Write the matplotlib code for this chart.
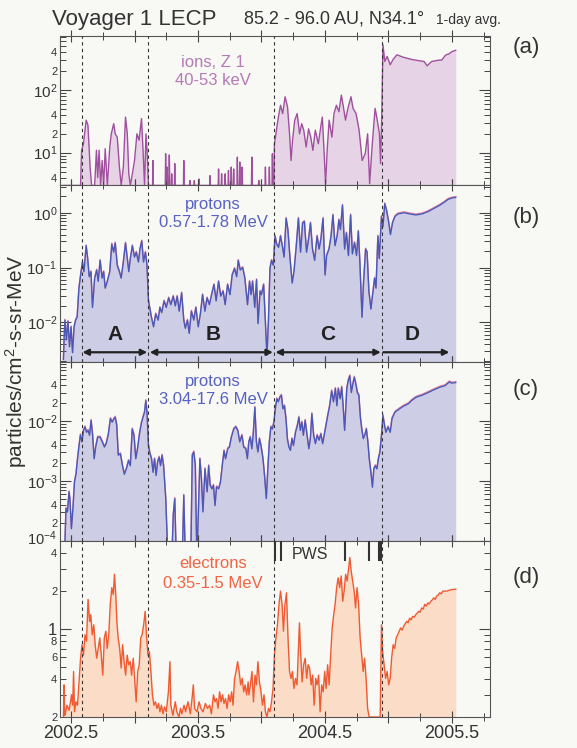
import numpy as np
import matplotlib
matplotlib.use('Agg')
import matplotlib.pyplot as plt
from matplotlib.ticker import FixedLocator, FuncFormatter, MultipleLocator
import matplotlib.transforms as mtransforms

plt.rcParams['font.family'] = ['Liberation Sans', 'DejaVu Sans']
plt.rcParams['mathtext.fontset'] = 'custom'
plt.rcParams['mathtext.rm'] = 'Liberation Sans'
plt.rcParams['mathtext.it'] = 'Liberation Sans:italic'
plt.rcParams['mathtext.bf'] = 'Liberation Sans:bold'

# ---------------- data (decimal year, flux) ----------------
ions_a = np.array([
    [2002.44, 3.0], [2002.575, 3.0], [2002.583, 10.9], [2002.598, 13.9], [2002.619, 33], [2002.633, 27.5],
    [2002.650, 5.9], [2002.662, 3.0], [2002.686, 3.0], [2002.700, 10.9], [2002.710, 4], [2002.721, 10.9],
    [2002.733, 3.0], [2002.745, 7.5], [2002.757, 3.0], [2002.769, 11.6], [2002.786, 3.0], [2002.805, 12.3],
    [2002.817, 20], [2002.836, 29], [2002.848, 20], [2002.864, 17.7], [2002.881, 5.9], [2002.895, 3.0],
    [2002.912, 5.9], [2002.929, 37], [2002.943, 20], [2002.955, 4.6], [2002.967, 3.0], [2002.983, 4.6],
    [2003.000, 7.5], [2003.019, 20], [2003.036, 15.8], [2003.055, 35], [2003.067, 10.9], [2003.079, 3.0],
    [2003.090, 20], [2003.100, 9.6], [2003.110, 3.0],
    [2003.142, 3.0], [2003.145, 7.5], [2003.148, 3.0], [2003.242, 3.0], [2003.245, 9.6], [2003.249, 3.0],
    [2003.253, 3.0], [2003.257, 5.9], [2003.261, 3.0], [2003.270, 3.0], [2003.274, 9.2], [2003.278, 3.0],
    [2003.290, 3.0], [2003.293, 4.6], [2003.296, 3.0], [2003.314, 3.0], [2003.317, 6.7], [2003.320, 3.0],
    [2003.385, 3.0], [2003.388, 7.5], [2003.391, 3.0], [2003.433, 3.0], [2003.436, 3.6], [2003.439, 3.0],
    [2003.468, 3.0], [2003.471, 3.6], [2003.474, 3.0], [2003.504, 3.0], [2003.507, 3.8], [2003.510, 3.0],
    [2003.592, 3.0], [2003.595, 4.3], [2003.598, 3.0], [2003.659, 3.0], [2003.662, 5.5], [2003.665, 3.0],
    [2003.683, 3.0], [2003.686, 4.6], [2003.689, 3.0], [2003.711, 3.0], [2003.714, 4.6], [2003.717, 3.0],
    [2003.737, 3.0], [2003.740, 5.2], [2003.743, 3.0], [2003.759, 3.0], [2003.762, 5.9], [2003.765, 3.0],
    [2003.778, 3.0], [2003.781, 5.5], [2003.784, 3.0], [2003.807, 3.0], [2003.810, 8.5], [2003.813, 3.0],
    [2003.826, 3.0], [2003.829, 7.1], [2003.832, 3.0], [2003.845, 3.0], [2003.848, 5.9], [2003.851, 3.0],
    [2003.921, 3.0], [2003.924, 8.5], [2003.927, 3.0], [2003.976, 3.0], [2003.979, 3.6], [2003.982, 3.0],
    [2004.028, 3.0], [2004.031, 5.9], [2004.034, 3.0], [2004.059, 3.0], [2004.062, 5.9], [2004.065, 3.0],
    [2004.083, 3.0], [2004.086, 9.6], [2004.089, 3.0], [2004.098, 3.0],
    [2004.102, 13.9], [2004.114, 20], [2004.133, 37], [2004.150, 57], [2004.167, 42], [2004.186, 78],
    [2004.205, 54], [2004.221, 20], [2004.233, 7.5], [2004.245, 15.8], [2004.262, 33], [2004.281, 42],
    [2004.300, 20], [2004.317, 29], [2004.333, 22.8], [2004.352, 12.3], [2004.371, 24], [2004.388, 17.7],
    [2004.405, 10.9], [2004.424, 22.8], [2004.448, 13.9], [2004.467, 25.8], [2004.479, 37], [2004.490, 13.9],
    [2004.505, 3.2], [2004.519, 12.3], [2004.533, 33], [2004.555, 17.7], [2004.571, 42], [2004.590, 57],
    [2004.610, 45], [2004.629, 83], [2004.643, 57], [2004.662, 33], [2004.681, 51], [2004.705, 78],
    [2004.721, 51], [2004.745, 42], [2004.769, 22.8], [2004.793, 7.5], [2004.817, 9.6], [2004.836, 20],
    [2004.852, 3.2], [2004.871, 12.3], [2004.895, 51], [2004.912, 33], [2004.929, 20], [2004.938, 6.7],
    [2004.948, 48], [2004.957, 525], [2004.971, 285], [2004.990, 343], [2005.014, 252], [2005.038, 310],
    [2005.067, 364], [2005.114, 335], [2005.174, 310], [2005.233, 295], [2005.281, 285], [2005.305, 243],
    [2005.340, 285], [2005.400, 300], [2005.420, 300], [2005.450, 360], [2005.480, 380], [2005.500, 410],
    [2005.530, 430]])

protons_b = np.array([
    [2002.440, 0.0021], [2002.446, 0.0055], [2002.452, 0.011], [2002.464, 0.0048], [2002.476, 0.0105],
    [2002.488, 0.0036], [2002.500, 0.0083], [2002.512, 0.0028], [2002.524, 0.0083], [2002.536, 0.011],
    [2002.548, 0.0124], [2002.562, 0.042], [2002.579, 0.084], [2002.590, 0.126], [2002.602, 0.084],
    [2002.619, 0.25], [2002.631, 0.145], [2002.643, 0.068], [2002.657, 0.084], [2002.669, 0.0187],
    [2002.686, 0.064], [2002.702, 0.09], [2002.714, 0.056], [2002.729, 0.135], [2002.745, 0.064],
    [2002.757, 0.084], [2002.769, 0.042], [2002.786, 0.056], [2002.805, 0.084], [2002.821, 0.267],
    [2002.836, 0.19], [2002.848, 0.28], [2002.864, 0.11], [2002.881, 0.084], [2002.895, 0.064],
    [2002.912, 0.126], [2002.929, 0.28], [2002.943, 0.145], [2002.955, 0.084], [2002.967, 0.145],
    [2002.983, 0.25], [2003.000, 0.155], [2003.014, 0.19], [2003.031, 0.126], [2003.043, 0.217],
    [2003.057, 0.305], [2003.071, 0.126], [2003.086, 0.19], [2003.098, 0.11], [2003.110, 0.0246],
    [2003.119, 0.0187], [2003.133, 0.0124], [2003.150, 0.0083], [2003.167, 0.0143], [2003.186, 0.011],
    [2003.200, 0.0187], [2003.214, 0.015], [2003.233, 0.0246], [2003.250, 0.0187], [2003.269, 0.028],
    [2003.286, 0.021], [2003.305, 0.030], [2003.321, 0.020], [2003.336, 0.030], [2003.352, 0.016],
    [2003.371, 0.0345], [2003.388, 0.011], [2003.400, 0.0078], [2003.417, 0.011], [2003.431, 0.0063],
    [2003.448, 0.016], [2003.467, 0.011], [2003.483, 0.0187], [2003.502, 0.0083], [2003.519, 0.0143],
    [2003.536, 0.032], [2003.555, 0.016], [2003.571, 0.028], [2003.590, 0.021], [2003.607, 0.032],
    [2003.626, 0.049], [2003.643, 0.0246], [2003.662, 0.056], [2003.679, 0.030], [2003.698, 0.037],
    [2003.714, 0.021], [2003.733, 0.049], [2003.752, 0.032], [2003.769, 0.073], [2003.788, 0.096],
    [2003.805, 0.068], [2003.817, 0.135], [2003.833, 0.09], [2003.852, 0.10], [2003.869, 0.064],
    [2003.890, 0.021], [2003.906, 0.056], [2003.918, 0.032], [2003.930, 0.056], [2003.947, 0.0187],
    [2003.961, 0.06], [2003.973, 0.0095], [2003.989, 0.037], [2004.000, 0.032], [2004.017, 0.049],
    [2004.032, 0.0083], [2004.043, 0.0025], [2004.055, 0.011], [2004.067, 0.096], [2004.079, 0.135],
    [2004.093, 0.11], [2004.107, 0.375], [2004.119, 0.267], [2004.135, 0.233], [2004.150, 0.375],
    [2004.166, 0.233], [2004.178, 0.155], [2004.194, 0.79], [2004.208, 0.49], [2004.225, 0.145],
    [2004.242, 0.052], [2004.256, 0.084], [2004.272, 0.217], [2004.291, 0.79], [2004.308, 0.19],
    [2004.324, 0.65], [2004.338, 0.69], [2004.355, 0.19], [2004.371, 0.33], [2004.386, 0.65],
    [2004.402, 0.217], [2004.419, 0.135], [2004.438, 0.375], [2004.454, 0.217], [2004.468, 0.33],
    [2004.485, 0.79], [2004.501, 0.073], [2004.513, 0.165], [2004.532, 0.217], [2004.548, 0.375],
    [2004.563, 0.91], [2004.579, 0.25], [2004.596, 0.375], [2004.610, 0.74], [2004.622, 0.49],
    [2004.638, 1.37], [2004.655, 0.217], [2004.669, 0.43], [2004.685, 0.165], [2004.702, 0.91],
    [2004.716, 0.177], [2004.733, 0.285], [2004.749, 0.165], [2004.763, 0.46], [2004.775, 0.126],
    [2004.792, 0.0124], [2004.803, 0.049], [2004.820, 0.217], [2004.832, 0.19], [2004.846, 0.037],
    [2004.862, 0.0175], [2004.874, 0.030], [2004.891, 0.064], [2004.902, 0.042], [2004.917, 0.375],
    [2004.928, 0.145], [2004.945, 0.85], [2004.957, 0.56], [2004.971, 1.46], [2004.985, 1.1],
    [2004.999, 0.74], [2005.016, 0.40], [2005.032, 0.65], [2005.051, 0.85], [2005.075, 0.95],
    [2005.122, 1.0], [2005.169, 0.95], [2005.216, 0.91], [2005.264, 0.95], [2005.310, 1.04],
    [2005.357, 1.19], [2005.405, 1.37], [2005.443, 1.57], [2005.470, 1.75], [2005.500, 1.85],
    [2005.530, 1.9]])

protons_c = np.array([
    [2002.448, 5e-5], [2002.460, 3.5e-4], [2002.472, 3.05e-4], [2002.484, 6.6e-4], [2002.491, 5.1e-4],
    [2002.503, 1.6e-4], [2002.515, 3.5e-4], [2002.527, 9.6e-4], [2002.539, 1.3e-3], [2002.551, 2.35e-3],
    [2002.563, 3.9e-3], [2002.574, 5.9e-3], [2002.586, 4.5e-3], [2002.598, 7.0e-3], [2002.610, 8.0e-3],
    [2002.622, 6.5e-3], [2002.634, 7e-3], [2002.646, 5.8e-3], [2002.658, 0.0103], [2002.670, 5.8e-3],
    [2002.682, 2.35e-3], [2002.694, 3.7e-3], [2002.710, 5.4e-3], [2002.729, 5.4e-3], [2002.746, 4.5e-3],
    [2002.763, 3.7e-3], [2002.777, 4.2e-3], [2002.794, 6.1e-3], [2002.810, 0.011], [2002.824, 9.6e-3],
    [2002.839, 0.011], [2002.848, 0.0116], [2002.860, 8.5e-3], [2002.872, 2.7e-3], [2002.889, 2.85e-3],
    [2002.905, 1.8e-3], [2002.920, 1.3e-3], [2002.936, 1.6e-3], [2002.953, 2.2e-3], [2002.967, 1.8e-3],
    [2002.982, 7.4e-3], [2002.996, 5.8e-3], [2003.010, 2.35e-3], [2003.024, 3.5e-3], [2003.039, 6.1e-3],
    [2003.053, 9e-3], [2003.067, 0.0116], [2003.079, 0.0141], [2003.089, 0.022], [2003.098, 0.0141],
    [2003.110, 3.9e-3], [2003.122, 2.85e-3], [2003.134, 2.35e-3], [2003.146, 1.4e-3], [2003.158, 2.35e-3],
    [2003.170, 1.24e-3], [2003.182, 2.1e-3], [2003.194, 2.5e-3], [2003.205, 1.8e-3], [2003.217, 2.7e-3],
    [2003.229, 1.8e-3], [2003.246, 5.1e-4], [2003.263, 5e-5], [2003.294, 5e-5], [2003.305, 2.7e-4],
    [2003.317, 5.1e-4], [2003.329, 5e-5], [2003.376, 5e-5], [2003.388, 5.8e-4], [2003.400, 5e-5],
    [2003.443, 5e-5], [2003.455, 2.7e-3], [2003.467, 3.05e-3], [2003.479, 1.8e-3], [2003.491, 5e-5],
    [2003.503, 3.05e-4], [2003.515, 2.35e-3], [2003.527, 1.1e-3], [2003.539, 3.05e-4], [2003.555, 1.6e-3],
    [2003.572, 6.6e-4], [2003.584, 1.8e-3], [2003.596, 8.5e-4], [2003.610, 7.4e-4], [2003.622, 8.5e-4],
    [2003.634, 3.9e-4], [2003.646, 8e-4], [2003.663, 7.4e-4], [2003.677, 9.6e-4], [2003.691, 1.8e-3],
    [2003.705, 3.2e-3], [2003.717, 2.35e-3], [2003.734, 3.45e-3], [2003.748, 3.7e-3], [2003.763, 5.4e-3],
    [2003.782, 7.4e-3], [2003.798, 8e-3], [2003.813, 7e-3], [2003.829, 4.5e-3], [2003.846, 5.8e-3],
    [2003.860, 3.7e-3], [2003.877, 3.45e-3], [2003.889, 2.35e-3], [2003.900, 4.5e-3], [2003.912, 5.4e-3],
    [2003.924, 3.45e-3], [2003.936, 6.5e-3], [2003.948, 0.017], [2003.960, 4.5e-3], [2003.972, 3.05e-3],
    [2003.984, 5.1e-3], [2003.996, 3.9e-3], [2004.012, 2.35e-3], [2004.024, 1.24e-3], [2004.038, 5.1e-4],
    [2004.050, 1.6e-3], [2004.062, 4.5e-3], [2004.074, 8e-3], [2004.086, 7.4e-3], [2004.098, 9.6e-3],
    [2004.109, 0.016], [2004.121, 0.0235], [2004.133, 0.021], [2004.145, 0.025], [2004.157, 0.027],
    [2004.169, 0.016], [2004.181, 0.018], [2004.193, 0.011], [2004.204, 5.1e-3], [2004.216, 3.7e-3],
    [2004.228, 3.25e-3], [2004.240, 5.1e-3], [2004.252, 3.9e-3], [2004.268, 6.5e-3], [2004.283, 8.5e-3],
    [2004.295, 0.0116], [2004.306, 7e-3], [2004.318, 9.6e-3], [2004.330, 5.8e-3], [2004.344, 0.0103],
    [2004.359, 5.8e-3], [2004.373, 3.45e-3], [2004.385, 5.1e-3], [2004.397, 0.0133], [2004.411, 5.8e-3],
    [2004.425, 4.2e-3], [2004.439, 5.8e-3], [2004.454, 4.8e-3], [2004.468, 6.1e-3], [2004.482, 4.2e-3],
    [2004.494, 5.8e-3], [2004.506, 8e-3], [2004.522, 0.0124], [2004.537, 0.018], [2004.553, 0.032],
    [2004.567, 0.021], [2004.582, 0.035], [2004.594, 0.018], [2004.605, 0.035], [2004.620, 0.0235],
    [2004.632, 0.037], [2004.643, 0.018], [2004.655, 7e-3], [2004.672, 0.035], [2004.684, 0.048],
    [2004.696, 0.057], [2004.708, 0.030], [2004.720, 0.042], [2004.731, 0.054], [2004.743, 0.042],
    [2004.755, 0.030], [2004.767, 0.027], [2004.779, 0.0116], [2004.790, 7.4e-3], [2004.802, 5.1e-3],
    [2004.814, 5.8e-3], [2004.826, 7.4e-3], [2004.838, 4.5e-3], [2004.849, 2.35e-3], [2004.862, 1.4e-3],
    [2004.874, 7.9e-4], [2004.885, 1.6e-3], [2004.897, 1.8e-3], [2004.909, 1.6e-3], [2004.921, 2.35e-3],
    [2004.933, 3.05e-3], [2004.945, 5.8e-3], [2004.957, 0.0124], [2004.969, 8.5e-3], [2004.980, 6.5e-3],
    [2004.997, 8e-3], [2005.014, 6.5e-3], [2005.028, 0.011], [2005.052, 0.0141], [2005.087, 0.016],
    [2005.123, 0.018], [2005.158, 0.0195], [2005.182, 0.022], [2005.218, 0.025], [2005.265, 0.027],
    [2005.313, 0.030], [2005.360, 0.0335], [2005.408, 0.037], [2005.446, 0.039], [2005.480, 0.045],
    [2005.500, 0.043], [2005.530, 0.044]])

electrons_d = np.array([
    [2002.440, 0.2], [2002.445, 0.36], [2002.450, 0.206], [2002.458, 0.22], [2002.468, 0.248],
    [2002.484, 0.226], [2002.496, 0.264], [2002.503, 0.30], [2002.513, 0.248], [2002.520, 0.46],
    [2002.527, 0.22], [2002.539, 0.264], [2002.551, 0.248], [2002.563, 0.38], [2002.575, 0.586],
    [2002.586, 0.75], [2002.598, 0.62], [2002.610, 0.9], [2002.622, 0.8], [2002.634, 1.72],
    [2002.646, 1.15], [2002.655, 1.3], [2002.667, 0.9], [2002.679, 1.08], [2002.690, 0.75],
    [2002.702, 0.586], [2002.714, 0.70], [2002.726, 0.85], [2002.738, 0.62], [2002.750, 0.43],
    [2002.762, 0.85], [2002.774, 0.96], [2002.785, 0.70], [2002.797, 0.9], [2002.809, 1.57],
    [2002.821, 2.13], [2002.833, 1.88], [2002.842, 2.72], [2002.852, 1.88], [2002.861, 1.15],
    [2002.871, 0.85], [2002.883, 0.70], [2002.895, 0.49], [2002.906, 0.75], [2002.918, 0.55],
    [2002.930, 0.43], [2002.942, 0.62], [2002.954, 0.52], [2002.966, 0.55], [2002.977, 0.43],
    [2002.990, 0.586], [2003.001, 0.405], [2003.013, 0.264], [2003.025, 0.46], [2003.037, 0.52],
    [2003.049, 0.85], [2003.060, 0.9], [2003.072, 1.08], [2003.084, 1.38], [2003.094, 0.9],
    [2003.106, 0.62], [2003.117, 0.66], [2003.129, 0.46], [2003.141, 0.30], [2003.153, 0.248],
    [2003.165, 0.264], [2003.177, 0.234], [2003.189, 0.256], [2003.200, 0.22], [2003.212, 0.248],
    [2003.224, 0.212], [2003.236, 0.24], [2003.250, 0.22], [2003.267, 0.317], [2003.279, 0.55],
    [2003.286, 0.248], [2003.302, 0.206], [2003.321, 0.264], [2003.333, 0.22], [2003.350, 0.2],
    [2003.362, 0.234], [2003.373, 0.212], [2003.390, 0.248], [2003.402, 0.22], [2003.421, 0.264],
    [2003.440, 0.212], [2003.456, 0.30], [2003.463, 0.36], [2003.473, 0.234], [2003.492, 0.22],
    [2003.508, 0.264], [2003.523, 0.234], [2003.540, 0.22], [2003.558, 0.256], [2003.575, 0.234],
    [2003.592, 0.248], [2003.606, 0.212], [2003.622, 0.30], [2003.634, 0.264], [2003.646, 0.28],
    [2003.658, 0.234], [2003.670, 0.317], [2003.682, 0.264], [2003.693, 0.30], [2003.705, 0.256],
    [2003.717, 0.28], [2003.729, 0.234], [2003.741, 0.30], [2003.753, 0.264], [2003.765, 0.317],
    [2003.776, 0.248], [2003.788, 0.405], [2003.800, 0.46], [2003.812, 0.55], [2003.824, 0.46],
    [2003.836, 0.36], [2003.848, 0.405], [2003.860, 0.317], [2003.871, 0.36], [2003.883, 0.30],
    [2003.895, 0.38], [2003.901, 0.30], [2003.913, 0.36], [2003.925, 0.46], [2003.937, 0.264],
    [2003.949, 0.43], [2003.960, 0.36], [2003.972, 0.55], [2003.984, 0.38], [2003.996, 0.317],
    [2004.008, 0.248], [2004.020, 0.30], [2004.031, 0.22], [2004.043, 0.2], [2004.055, 0.234],
    [2004.067, 0.22], [2004.079, 0.264], [2004.091, 0.337], [2004.102, 0.62], [2004.114, 0.85],
    [2004.126, 1.08], [2004.138, 1.57], [2004.150, 2.0], [2004.162, 1.57], [2004.173, 0.96],
    [2004.185, 1.57], [2004.197, 1.94], [2004.209, 0.85], [2004.221, 0.46], [2004.233, 0.405],
    [2004.244, 0.46], [2004.256, 0.337], [2004.268, 0.405], [2004.280, 0.36], [2004.292, 0.75],
    [2004.299, 1.12], [2004.308, 0.66], [2004.320, 0.38], [2004.332, 0.52], [2004.344, 0.586],
    [2004.356, 0.405], [2004.367, 0.52], [2004.379, 0.49], [2004.391, 0.36], [2004.403, 0.43],
    [2004.415, 0.248], [2004.427, 0.405], [2004.438, 0.36], [2004.450, 0.43], [2004.462, 0.22],
    [2004.474, 0.36], [2004.486, 0.317], [2004.498, 0.46], [2004.509, 0.337], [2004.521, 0.52],
    [2004.533, 0.36], [2004.545, 0.62], [2004.557, 1.02], [2004.569, 1.3], [2004.580, 1.57],
    [2004.592, 2.13], [2004.604, 2.55], [2004.616, 2.13], [2004.628, 2.64], [2004.640, 1.66],
    [2004.651, 2.0], [2004.663, 2.72], [2004.675, 2.4], [2004.687, 3.08], [2004.696, 3.7],
    [2004.706, 2.9], [2004.718, 2.4], [2004.730, 2.0], [2004.741, 1.47], [2004.753, 2.13],
    [2004.765, 1.57], [2004.777, 0.85], [2004.789, 0.62], [2004.801, 0.46], [2004.812, 0.586],
    [2004.824, 0.405], [2004.836, 0.234], [2004.848, 0.2], [2004.935, 0.2], [2004.945, 1.08],
    [2004.954, 0.66], [2004.966, 0.52], [2004.978, 0.405], [2004.990, 0.46], [2005.002, 0.36],
    [2005.014, 0.405], [2005.025, 0.586], [2005.037, 0.75], [2005.049, 0.70], [2005.061, 0.85],
    [2005.073, 0.9], [2005.085, 0.96], [2005.096, 1.02], [2005.108, 0.98], [2005.120, 1.05],
    [2005.132, 1.1], [2005.144, 1.15], [2005.155, 1.12], [2005.167, 1.22], [2005.179, 1.18],
    [2005.191, 1.26], [2005.203, 1.24], [2005.215, 1.3], [2005.227, 1.34], [2005.238, 1.38],
    [2005.250, 1.36], [2005.262, 1.47], [2005.274, 1.44], [2005.286, 1.57], [2005.298, 1.52],
    [2005.310, 1.61], [2005.322, 1.58], [2005.333, 1.66], [2005.345, 1.70], [2005.357, 1.77],
    [2005.369, 1.72], [2005.380, 1.83], [2005.392, 1.86], [2005.404, 1.94], [2005.416, 1.90],
    [2005.428, 2.0], [2005.460, 2.0], [2005.490, 2.05], [2005.530, 2.07]])

boundaries = [2002.584, 2003.108, 2004.100, 2004.952]
period_labels = ['A', 'B', 'C', 'D']
period_label_x = [2002.85, 2003.62, 2004.52, 2005.19]
period_spans = [(2002.59, 2003.10), (2003.12, 2004.09), (2004.11, 2004.94), (2004.96, 2005.48)]
pws_marks = [2004.107, 2004.150, 2004.661, 2004.845, 2004.929, 2004.944]
x_ticklabels = [2002.5, 2003.5, 2004.5, 2005.5]

series = [ions_a, protons_b, protons_c, electrons_d]
species = [("ions, Z 1", "40-53 keV"), ("protons", "0.57-1.78 MeV"),
           ("protons", "3.04-17.6 MeV"), ("electrons", "0.35-1.5 MeV")]
panel_tags = ['(a)', '(b)', '(c)', '(d)']
ylims = [(3.05, 727), (1.9e-3, 3.2), (1.0e-4, 0.097), (0.2, 5.0)]

# ---------------- styling ----------------
BG = '#f8f8f4'
line_colors = ['#a0509e', '#4a58b8', '#4a58b8', '#f05a32']
fill_colors = ['#e6d4e6', '#cdcde6', '#cdcde6', '#fbdcc6']
text_colors = ['#b67ab6', '#5862c2', '#5862c2', '#f06444']
minor_labels = [(2, 4), (), (2, 4), (2, 4, 6, 8)]
rows = [(36, 185), (185, 362), (362, 541), (541, 717)]
text_y = [(0.82, 0.70), (0.89, 0.79), (0.89, 0.79), (0.87, 0.76)]
tag_y = [47, 218, 390, 577]

W_PX, H_PX = 577, 748
fig = plt.figure(figsize=(W_PX / 100, H_PX / 100), dpi=100, facecolor=BG)
L, R = 60, 490


def make_fmt(last_panel, minors, lo):
    def f(v, pos):
        e = int(np.floor(np.log10(v) + 1e-9))
        m = v / 10.0 ** e
        if abs(m - 1) < 1e-6:
            if last_panel:
                return '1' if e == 0 else ''
            if abs(v / lo - 1) < 1e-6:
                return ''   # bottom decade label drawn separately (nudged up)
            return r'$10^{%d}$' % e
        k = int(round(m))
        return str(k) if k in minors else ''
    return f


axes = []
for i, (top, bot) in enumerate(rows):
    ax = fig.add_axes([L / W_PX, 1 - bot / H_PX, (R - L) / W_PX, (bot - top) / H_PX])
    ax.set_facecolor(BG)
    axes.append(ax)
    data = series[i]
    t, v = data[:, 0], data[:, 1]
    lo, hi = ylims[i]
    ax.set_yscale('log')
    ax.fill_between(t, v, lo * 0.01, color=fill_colors[i], lw=0, zorder=1)
    if i in (1, 2):
        ax.plot(t, v * 1.04, color='#e06a8a', lw=1.0, zorder=2, alpha=0.8)
    ax.plot(t, v, color=line_colors[i], lw=1.0, zorder=3)
    ax.set_xlim(2002.413, 2005.80)
    ax.set_ylim(lo, hi)
    for b in boundaries:
        ax.axvline(b, color='#333333', lw=0.8, ls=(0, (3, 3)), zorder=4)

    # y ticks
    d0 = int(np.floor(np.log10(lo))) - 1
    d1 = int(np.ceil(np.log10(hi))) + 1
    majors = [10.0 ** d for d in range(d0, d1) if lo * 0.999 <= 10.0 ** d <= hi * 1.001]
    minors = [k * 10.0 ** d for d in range(d0, d1) for k in range(2, 10)
              if lo * 0.999 <= k * 10.0 ** d <= hi * 1.001]
    ax.yaxis.set_major_locator(FixedLocator(majors))
    ax.yaxis.set_minor_locator(FixedLocator(minors))
    fmt = FuncFormatter(make_fmt(i == 3, minor_labels[i], lo))
    ax.yaxis.set_major_formatter(fmt)
    ax.yaxis.set_minor_formatter(fmt)
    ax.tick_params(axis='y', which='both', direction='in', left=True, right=True,
                   colors='#444444', labelcolor='#333333')
    ax.tick_params(axis='y', which='major', length=8, width=0.8,
                   labelsize=12 if i == 3 else 11, pad=2)
    ax.tick_params(axis='y', which='minor', length=4, width=0.7, labelsize=8, pad=2)
    if i < 3 and any(abs(mj / lo - 1) < 1e-6 for mj in majors):
        ax.annotate(r'$10^{%d}$' % int(round(np.log10(lo))), xy=(0, 0), xycoords='axes fraction',
                    xytext=(-2, 1.5), textcoords='offset points', ha='right', va='center',
                    fontsize=10.5, color='#333333', annotation_clip=False)

    # x ticks
    ax.xaxis.set_major_locator(MultipleLocator(0.5))
    ax.xaxis.set_minor_locator(MultipleLocator(0.25))
    ax.xaxis.set_major_formatter(FuncFormatter(
        lambda x, p: ('%.1f' % x) if any(abs(x - q) < 1e-6 for q in x_ticklabels) else ''))
    ax.tick_params(axis='x', which='both', direction='inout', top=True, bottom=True,
                   colors='#444444', labelcolor='#333333', labelsize=13, pad=1)
    ax.tick_params(axis='x', which='major', length=9, width=0.8)
    ax.tick_params(axis='x', which='minor', length=6, width=0.7)
    if i < 3:
        ax.tick_params(axis='x', labelbottom=False)
    for s in ax.spines.values():
        s.set_color('#555555')
        s.set_linewidth(0.8)

    # species text
    xc = 2003.62
    tr = mtransforms.blended_transform_factory(ax.transData, ax.transAxes)
    ax.text(xc, text_y[i][0], species[i][0], transform=tr, ha='center', va='center',
            fontsize=12, color=text_colors[i], zorder=5)
    ax.text(xc, text_y[i][1], species[i][1], transform=tr, ha='center', va='center',
            fontsize=12, color=text_colors[i], zorder=5)
    fig.text(513 / W_PX, 1 - tag_y[i] / H_PX, panel_tags[i], fontsize=16, color='#333333',
             ha='left', va='center')

# period labels and arrows in panel (b)
axb = axes[1]
trb = mtransforms.blended_transform_factory(axb.transData, axb.transAxes)
for lab, xl in zip(period_labels, period_label_x):
    axb.text(xl, 0.155, lab, transform=trb, ha='center', va='center', fontsize=15,
             fontweight='bold', color='#222222', zorder=6)
for j, (x0, x1) in enumerate(period_spans):
    axb.annotate('', xy=(x0, 0.055), xytext=(x1, 0.055), xycoords=trb, textcoords=trb,
                 arrowprops=dict(arrowstyle='<|-|>' if j < 3 else '<|-', color='#222222',
                                 lw=1.6, mutation_scale=9, shrinkA=0, shrinkB=0), zorder=6)

# PWS markers in panel (d)
axd = axes[3]
trd = mtransforms.blended_transform_factory(axd.transData, axd.transAxes)
for xm in pws_marks:
    axd.plot([xm, xm], [0.885, 1.0], transform=trd, color='#333333', lw=1.5, zorder=6,
             clip_on=False, solid_capstyle='butt')
axd.text(2004.385, 0.925, 'PWS', transform=trd, ha='center', va='center', fontsize=11.5,
         color='#333333', zorder=6)

# titles
fig.text(52 / W_PX, 1 - 19 / H_PX, 'Voyager 1 LECP', fontsize=16, color='#333333', ha='left', va='center')
fig.text(244 / W_PX, 1 - 19 / H_PX, '85.2 - 96.0 AU, N34.1°', fontsize=13, color='#333333',
         ha='left', va='center')
fig.text(436 / W_PX, 1 - 20 / H_PX, '1-day avg.', fontsize=10, color='#333333', ha='left', va='center')
fig.text(16 / W_PX, 1 - 361 / H_PX, 'particles/cm$^2$-s-sr-MeV', fontsize=15, color='#333333',
         rotation=90, ha='center', va='center')

fig.savefig('out.png', dpi=100, facecolor=BG)
